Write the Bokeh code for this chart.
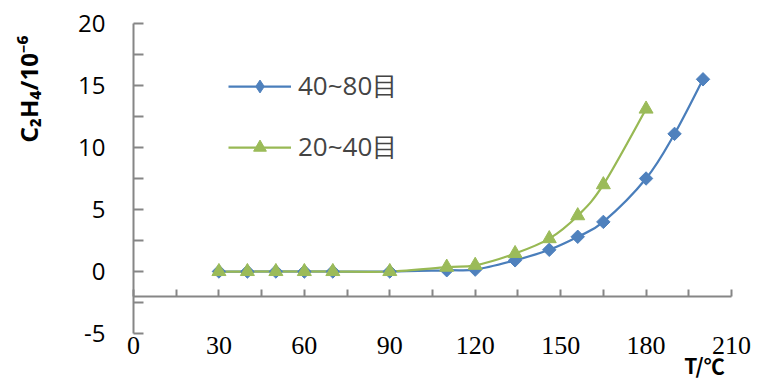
import math
from bokeh.plotting import figure
from bokeh.models import Range1d, LinearAxis, FixedTicker, Legend, LegendItem, Label
from bokeh.embed import file_html
from bokeh.resources import INLINE

# ---- data ----
x_b = [30, 40, 50, 60, 70, 90, 110, 120, 134, 146, 156, 165, 180, 190, 200]
y_b = [0, 0, 0, 0, 0, 0, 0.1, 0.15, 0.9, 1.75, 2.8, 4.0, 7.5, 11.1, 15.5]
x_g = [30, 40, 50, 60, 70, 90, 110, 120, 134, 146, 156, 165, 180]
y_g = [0, 0, 0, 0, 0, 0, 0.35, 0.5, 1.45, 2.65, 4.5, 7.0, 13.1]
label_b = "40~80目"
label_g = "20~40目"
x_ticks = [0, 30, 60, 90, 120, 150, 180, 210]
x_minor = [15, 45, 75, 105, 135, 165, 195]
y_ticks = [-5, 0, 5, 10, 15, 20]
y_tick_labels = ["-5", "0", "5", "10", "15", "20"]
y_minor = [-2.5, 2.5, 7.5, 12.5, 17.5]
x_min, x_max = 0, 210
y_min, y_max = -5, 20
x_cross = -2
y_title = "C₂H₄/10⁻⁶"
x_title = "T/℃"

BLUE_L, BLUE_M = "#4A7EBB", "#4F81BD"
GREEN_L, GREEN_M = "#98B954", "#9BBB59"
AXIS = "#868686"

# canvas geometry (pixels): the axis box of the reference
W, H = 759, 381
AX_L, AX_R, AX_T, AX_B = 133, 731, 23, 333
sx = (AX_R - AX_L) / (x_max - x_min)
sy = (AX_B - AX_T) / (y_max - y_min)
xr = Range1d(x_min - AX_L / sx, x_max + (W - AX_R) / sx)
yr = Range1d(y_min - (H - AX_B) / sy, y_max + AX_T / sy)


def smooth(xs, ys, f=1.0 / 6):
    n = len(xs)
    out = ([], [], [], [], [], [], [], [])
    for i in range(n - 1):
        a = max(i - 1, 0)
        d = min(i + 2, n - 1)
        cx0 = xs[i] + (xs[i + 1] - xs[a]) * f
        cy0 = ys[i] + (ys[i + 1] - ys[a]) * f
        cx1 = xs[i + 1] - (xs[d] - xs[i]) * f
        cy1 = ys[i + 1] - (ys[d] - ys[i]) * f
        for lst, v in zip(out, (xs[i], ys[i], xs[i + 1], ys[i + 1], cx0, cy0, cx1, cy1)):
            lst.append(v)
    return out


p = figure(width=W, height=H, x_range=xr, y_range=yr,
           output_backend="svg", toolbar_location=None,
           x_axis_location=None, y_axis_location=None,
           min_border=0)
p.outline_line_color = None
p.xgrid.visible = False
p.ygrid.visible = False
p.background_fill_color = "white"

# y axis at x = 0
yax = LinearAxis(fixed_location=x_min, bounds=(y_min, y_max),
                 ticker=FixedTicker(ticks=y_ticks, minor_ticks=y_minor),
                 major_label_overrides={t: s for t, s in zip(y_ticks, y_tick_labels)},
                 axis_line_color=AXIS, axis_line_width=2,
                 major_tick_in=10, major_tick_out=0, minor_tick_in=10, minor_tick_out=0,
                 major_tick_line_color=AXIS, minor_tick_line_color=AXIS,
                 major_tick_line_width=2, minor_tick_line_width=2,
                 major_label_text_font="Open Sans", major_label_text_font_size="24px",
                 major_label_text_color="black", major_label_standoff=28)
p.add_layout(yax, "left")

# x tick labels at the bottom (y = -5)
xax = LinearAxis(fixed_location=y_min, bounds=(x_min, x_max),
                 ticker=FixedTicker(ticks=x_ticks),
                 axis_line_color=None, major_tick_line_color=None, minor_tick_line_color=None,
                 major_tick_in=0, major_tick_out=0,
                 major_label_text_font="Liberation Serif", major_label_text_font_size="26px",
                 major_label_text_color="black", major_label_standoff=3)
p.add_layout(xax, "below")

# x axis line crossing at y = -2
xline = LinearAxis(fixed_location=x_cross, bounds=(x_min, x_max),
                   ticker=FixedTicker(ticks=x_ticks, minor_ticks=x_minor),
                   axis_line_color=AXIS, axis_line_width=2,
                   major_tick_in=7, major_tick_out=0, minor_tick_in=7, minor_tick_out=0,
                   major_tick_line_color=AXIS, minor_tick_line_color=AXIS,
                   major_tick_line_width=2, minor_tick_line_width=2,
                   major_label_text_color=None)
p.add_layout(xline, "below")

# series
sb = smooth(x_b, y_b)
sg = smooth(x_g, y_g)
rb_line = p.bezier(*sb, line_color=BLUE_L, line_width=2.25)
rg_line = p.bezier(*sg, line_color=GREEN_L, line_width=2.25)
rb_pts = p.scatter(x_b, y_b, marker="square", angle=math.pi / 4, size=9.5,
                   fill_color=BLUE_M, line_color=BLUE_M)
rg_pts = p.scatter(x_g, y_g, marker="triangle", size=14,
                   fill_color=GREEN_M, line_color=GREEN_M)
# legend sample markers (hidden in the plot, shown only in the legend)
rb_leg = p.scatter(x_b, y_b, marker="diamond", fill_color=BLUE_M, line_color=BLUE_M, visible=False)
rg_leg = p.scatter(x_g, y_g, marker="triangle", fill_color=GREEN_M, line_color=GREEN_M, visible=False)

legend = Legend(items=[LegendItem(label=label_b, renderers=[rb_line, rb_leg]),
                       LegendItem(label=label_g, renderers=[rg_line, rg_leg])],
                location=(AX_L + 95, (H - AX_B) + 168), glyph_width=63, glyph_height=32,
                label_height=32, label_standoff=7, spacing=24, padding=0, margin=0,
                border_line_color=None, background_fill_alpha=0,
                label_text_font="Open Sans", label_text_font_size="26px")
p.add_layout(legend)

p.add_layout(Label(x=-36.9, y=14.72, text=y_title, angle=math.pi / 2, text_align="center",
                   text_baseline="middle", text_font="Noto Sans", text_font_style="bold",
                   text_font_size="24px", text_color="black"))
p.add_layout(Label(x=200.5, y=-7.55, text=x_title, text_align="center",
                   text_baseline="middle", text_font="Noto Sans CJK SC", text_font_style="bold",
                   text_font_size="21px", text_color="black"))

open("out.html", "w").write(file_html(p, INLINE))
